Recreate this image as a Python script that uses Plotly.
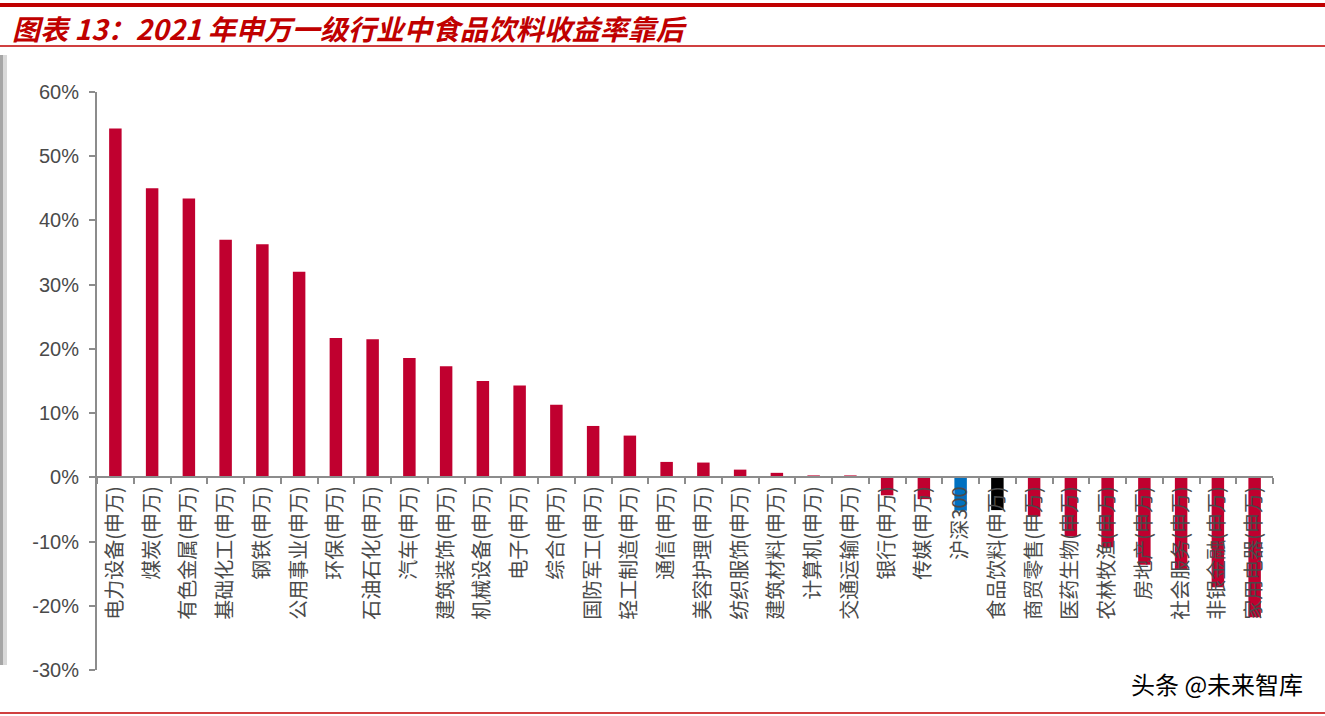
import plotly.graph_objects as go

categories = ["电力设备(申万)", "煤炭(申万)", "有色金属(申万)", "基础化工(申万)", "钢铁(申万)",
              "公用事业(申万)", "环保(申万)", "石油石化(申万)", "汽车(申万)", "建筑装饰(申万)",
              "机械设备(申万)", "电子(申万)", "综合(申万)", "国防军工(申万)", "轻工制造(申万)",
              "通信(申万)", "美容护理(申万)", "纺织服饰(申万)", "建筑材料(申万)", "计算机(申万)",
              "交通运输(申万)", "银行(申万)", "传媒(申万)", "沪深300", "食品饮料(申万)",
              "商贸零售(申万)", "医药生物(申万)", "农林牧渔(申万)", "房地产(申万)", "社会服务(申万)",
              "非银金融(申万)", "家用电器(申万)"]
returns = [54.3, 45.0, 43.4, 37.0, 36.3, 32.0, 21.7, 21.5, 18.6, 17.3,
           15.0, 14.3, 11.3, 8.0, 6.5, 2.4, 2.3, 1.2, 0.7, 0.3,
           0.3, -2.8, -3.4, -5.2, -5.1, -6.1, -9.2, -10.9, -13.6, -14.4,
           -17.1, -21.8]
y_ticks = [-30, -20, -10, 0, 10, 20, 30, 40, 50, 60]

RED = "#c0002f"
colors = []
for c in categories:
    if c == "沪深300":
        colors.append("#0070c0")
    elif c.startswith("食品饮料"):
        colors.append("#000000")
    else:
        colors.append(RED)

fig = go.Figure(go.Bar(x=categories, y=returns, marker=dict(color=colors, line=dict(width=0)),
                       width=0.34))

fig.update_layout(
    width=1325, height=716,
    margin=dict(l=97, r=52, t=92, b=46),
    paper_bgcolor="white", plot_bgcolor="rgba(0,0,0,0)",
    showlegend=False,
    xaxis=dict(anchor="free", position=1/3, showline=True, linecolor="#8c8c8c", linewidth=2,
               ticks="outside", tickson="boundaries", ticklen=6, tickcolor="#8c8c8c", tickwidth=2,
               tickangle=-90, tickfont=dict(family="Noto Sans CJK SC", size=20, color="#4a4a4a"),
               showgrid=False, zeroline=False),
    yaxis=dict(range=[-30, 60], tickvals=y_ticks, ticktext=[f"{v}%" for v in y_ticks],
               showline=True, linecolor="#8c8c8c", linewidth=2, ticks="outside", ticklen=6,
               tickcolor="#8c8c8c", tickwidth=2, showgrid=False, zeroline=False,
               ticklabelstandoff=6,
               tickfont=dict(family="Liberation Sans", size=20, color="#4a4a4a")),
)

W = 1176.0
H = 578.0
# decorative lines
fig.add_shape(type="line", xref="paper", yref="paper", x0=-97/W, x1=1+52/W,
              y0=1 + (92-5)/H, y1=1 + (92-5)/H, line=dict(color="#c00000", width=4))
fig.add_shape(type="line", xref="paper", yref="paper", x0=-97/W, x1=1+52/W,
              y0=1 + (92-46)/H, y1=1 + (92-46)/H, line=dict(color="#c00000", width=1.5))
fig.add_shape(type="line", xref="paper", yref="paper", x0=-97/W, x1=1+52/W,
              y0=-(713-670)/H, y1=-(713-670)/H, line=dict(color="#c00000", width=1.5))
# left scanned shadow
fig.add_shape(type="rect", xref="paper", yref="paper", x0=-97/W, x1=-90/W,
              y0=1 - (665-92)/H, y1=1 + (92-55)/H, fillcolor="#d9d9d9", line=dict(width=0))
fig.add_shape(type="rect", xref="paper", yref="paper", x0=-97/W, x1=-94/W,
              y0=1 - (665-92)/H, y1=1 + (92-55)/H, fillcolor="#a6a6a6", line=dict(width=0))

fig.add_annotation(text="<b><i>图表 13：2021 年申万一级行业中食品饮料收益率靠后</i></b>",
                   xref="paper", yref="paper", x=-87/W, y=1 + (92-28)/H,
                   xanchor="left", yanchor="middle", showarrow=False,
                   font=dict(family="Noto Sans CJK SC", size=28, color="#c00000"))
fig.add_annotation(text="头条 @未来智库", xref="paper", yref="paper",
                   x=1 + (1305-1273)/W, y=-(683-670)/H, xanchor="right", yanchor="middle",
                   showarrow=False, font=dict(family="Noto Sans CJK SC", size=24, color="#000000"))

fig.write_html("out.html")
